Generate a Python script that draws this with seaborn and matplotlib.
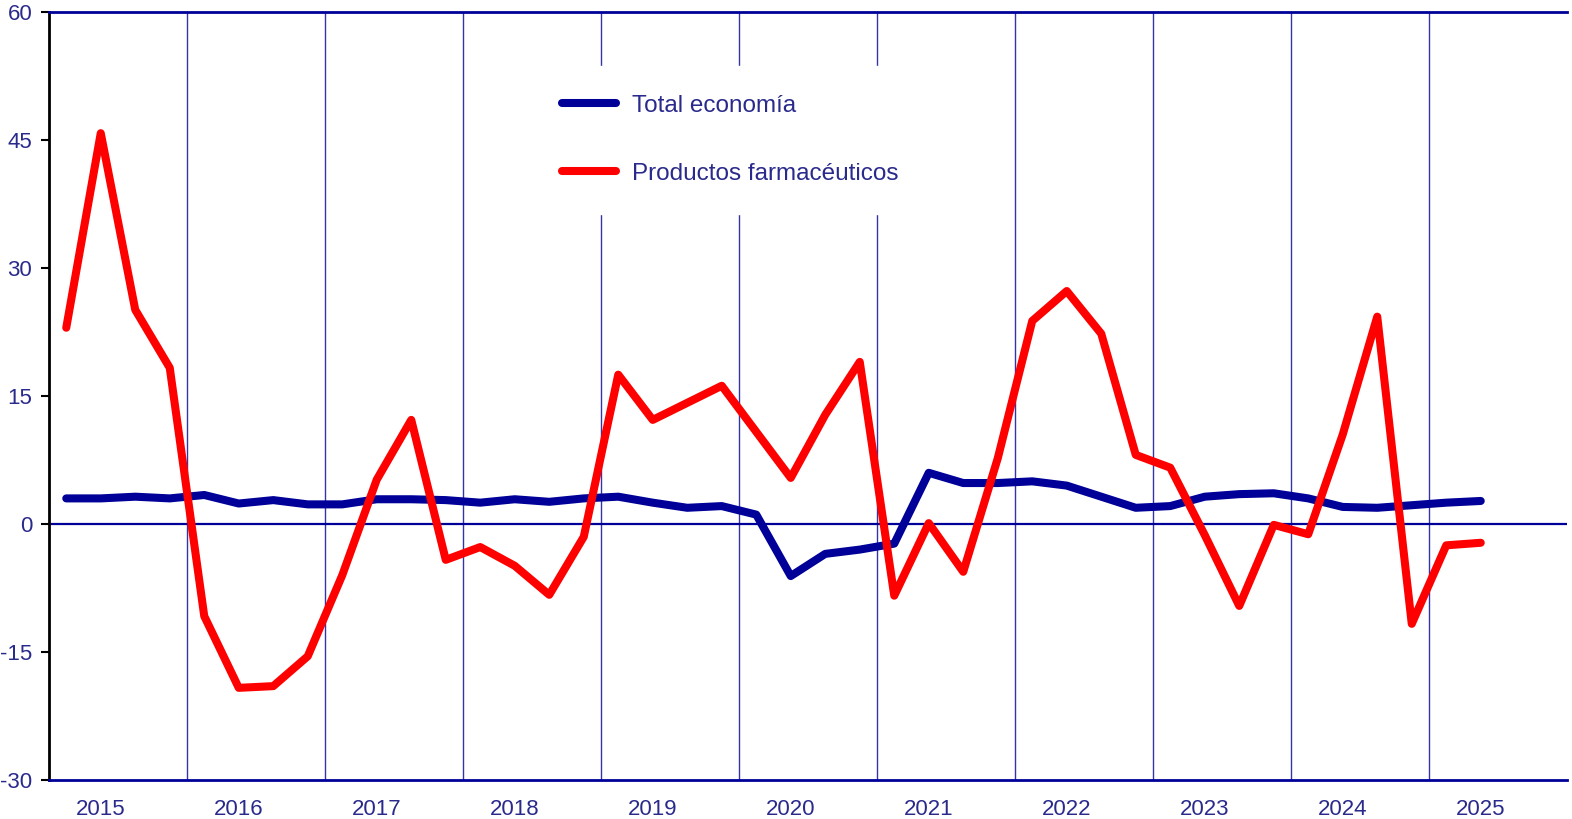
import numpy as np
import pandas as pd
import seaborn as sns
import matplotlib.pyplot as plt
from matplotlib.ticker import FixedLocator, NullFormatter

#Quarterly series, 2015Q1 - 2025Q2
years = list(range(2015, 2026))
quarters = [y + (q - 0.5) / 4 for y in years for q in range(1, 5)][:42]

total_economia = [3.0, 3.0, 3.2, 3.0, 3.4, 2.4, 2.8, 2.3,
                  2.3, 2.9, 2.9, 2.8, 2.5, 2.9, 2.6, 3.0,
                  3.2, 2.5, 1.9, 2.1, 1.1, -6.1, -3.5, -3.0,
                  -2.3, 6.0, 4.8, 4.8, 5.0, 4.5, 3.2, 1.9,
                  2.1, 3.2, 3.5, 3.6, 3.0, 2.0, 1.9, 2.2,
                  2.5, 2.7]
farmaceuticos = [23.0, 45.8, 25.1, 18.3, -10.8, -19.2, -19.0, -15.5,
                 -6.0, 5.2, 12.2, -4.2, -2.7, -4.9, -8.3, -1.5,
                 17.5, 12.2, 14.2, 16.2, 10.8, 5.4, 12.8, 19.0,
                 -8.4, 0.1, -5.6, 7.7, 23.8, 27.3, 22.3, 8.1,
                 6.6, -1.3, -9.6, -0.1, -1.2, 10.5, 24.3, -11.7,
                 -2.5, -2.2]
y_ticks = [-30, -15, 0, 15, 30, 45, 60]

series_names = ["Total economía", "Productos farmacéuticos"]
df = pd.DataFrame({
    "fecha": quarters * 2,
    "valor": total_economia + farmaceuticos,
    "serie": [series_names[0]] * 42 + [series_names[1]] * 42,
})

navy = "#000099"
text_col = "#2a2a8c"

sns.set_style("white")
plt.rcParams["font.family"] = ["Liberation Sans", "DejaVu Sans"]

fig = plt.figure(figsize=(15.72, 8.19), dpi=100)
ax = fig.add_axes([49 / 1572, 1 - 780 / 819, (1567 - 49) / 1572, (780 - 12) / 819])

#Year separators and zero line
for y in years[1:]:
    ax.axvline(y, color="#3333aa", lw=1.0, zorder=1)
ax.axhline(0, color=navy, lw=1.6, zorder=1)

sns.lineplot(data=df, x="fecha", y="valor", hue="serie", hue_order=series_names,
             palette=[navy, "#ff0000"], linewidth=5.8, ax=ax, zorder=3)

ax.set_xlim(2015, 2026)
ax.set_ylim(-30, 60)
ax.set_yticks(y_ticks)
ax.set_yticklabels([str(v) for v in y_ticks])
ax.xaxis.set_major_locator(FixedLocator(years + [2026]))
ax.xaxis.set_major_formatter(NullFormatter())
ax.xaxis.set_minor_locator(FixedLocator([y + 0.375 for y in years]))
ax.set_xticklabels([str(y) for y in years], minor=True)
ax.tick_params(axis="x", which="both", length=0, labelsize=16, labelcolor=text_col, pad=14)
ax.tick_params(axis="y", length=6, width=1.5, color="black", direction="out",
               left=True, labelsize=16, labelcolor=text_col, pad=6)
ax.set_xlabel("")
ax.set_ylabel("")

for s in ["top", "bottom"]:
    ax.spines[s].set_color(navy)
    ax.spines[s].set_linewidth(2)
ax.spines["left"].set_color("black")
ax.spines["left"].set_linewidth(2)
ax.spines["right"].set_visible(False)

leg = ax.legend(loc="upper left", bbox_to_anchor=(0.311, 0.946), fontsize=17.5,
                frameon=True, facecolor="white", edgecolor="white", framealpha=1,
                fancybox=False, handlelength=2.2, handletextpad=0.65,
                labelspacing=1.9, borderpad=1.2)
for t in leg.get_texts():
    t.set_color(text_col)
for h in leg.get_lines():
    h.set_linewidth(5.8)
    h.set_solid_capstyle("round")
leg.set_zorder(5)

fig.savefig("out.png", dpi=100)
